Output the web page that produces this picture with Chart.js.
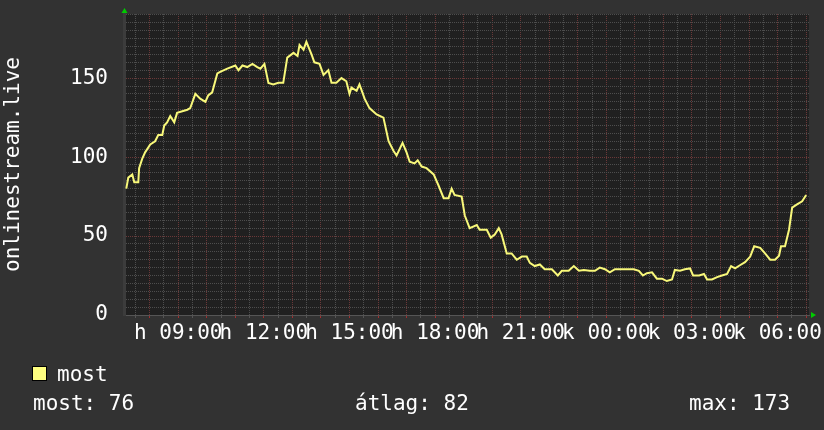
<!DOCTYPE html>
<html>
<head>
<meta charset="utf-8">
<script src="https://cdn.jsdelivr.net/npm/chart.js@4/dist/chart.umd.min.js"></script>
<style>
  html, body { margin: 0; padding: 0; background: #323232; }
</style>
</head>
<body>
<canvas id="chart" width="824" height="430"></canvas>
<script>
// time of each sample, hours since midnight of the first day
const times = [7.18,7.25,7.39,7.46,7.60,7.63,7.74,7.84,8.02,8.19,
  8.30,8.44,8.51,8.61,8.72,8.86,8.96,9.32,9.42,9.60,
  9.77,9.95,10.05,10.19,10.37,10.47,10.72,11.00,11.11,11.25,
  11.42,11.60,11.77,11.88,12.02,12.16,12.33,12.51,12.68,12.82,
  13.04,13.18,13.25,13.39,13.49,13.67,13.77,13.95,14.09,14.26,
  14.37,14.54,14.72,14.89,15.00,15.07,15.25,15.35,15.53,15.70,
  15.95,16.19,16.37,16.54,16.65,16.86,17.00,17.11,17.28,17.39,
  17.53,17.70,17.95,18.12,18.30,18.47,18.58,18.68,18.93,19.04,
  19.21,19.46,19.56,19.81,19.95,20.09,20.23,20.33,20.51,20.68,
  20.86,21.04,21.21,21.32,21.49,21.67,21.84,22.09,22.30,22.44,
  22.68,22.86,23.04,23.21,23.42,23.60,23.77,23.95,24.12,24.30,
  24.47,24.72,24.96,25.14,25.28,25.42,25.60,25.77,25.95,26.12,
  26.30,26.40,26.58,26.75,26.93,27.04,27.25,27.42,27.53,27.70,
  27.88,28.05,28.23,28.37,28.51,28.68,28.86,29.04,29.18,29.39,
  29.56,29.74,29.91,30.05,30.12,30.26,30.40,30.51,30.68,30.86,
  31.00];

// listeners ("most")
const values = [80,87,89,84,84,93,99,103,108,110,
  114,114,120,122,126,122,128,130,131,140,
  137,135,139,141,153,154,156,158,155,158,
  157,159,157,156,159,147,146,147,147,163,
  166,164,171,168,173,165,160,159,152,155,
  147,147,150,148,140,144,142,146,137,131,
  127,125,110,104,101,109,103,97,96,98,
  94,93,89,82,74,74,80,76,75,63,
  55,57,54,54,49,51,55,51,39,39,
  35,37,37,33,31,32,29,29,25,28,
  28,31,28,28.5,28,28,30,29,27,29,
  29,29,29,28,25,26.5,27,23,23,21.5,
  22.5,28.5,28,29,29.5,25,25,26,22.5,22.5,
  24,25,26,31,29.5,31.5,33.5,37,43.5,42.5,
  39,35,35,37.5,43.5,43.5,54,68,70,72,
  76];

const xTickHours = [9, 12, 15, 18, 21, 24, 27, 30];
const xTickLabels = ['h 09:00', 'h 12:00', 'h 15:00', 'h 18:00', 'h 21:00', 'k 00:00', 'k 03:00', 'k 06:00'];
const yTickValues = [0, 50, 100, 150];
const seriesName = 'most';
const statLabels = ['most: 76', 'átlag: 82', 'max: 173'];

const MONO = "'DejaVu Sans Mono', monospace";
const LINE = '#f8f87a';
const MINOR = '#4d4d4d';
const MAJOR = '#6a3838';

const rrdDecor = {
  id: 'rrdDecor',
  beforeDraw(chart) {
    const { ctx, chartArea: a } = chart;
    ctx.save();
    ctx.fillStyle = '#323232';
    ctx.fillRect(0, 0, chart.width, chart.height);
    ctx.fillStyle = '#202020';
    ctx.fillRect(a.left, a.top, a.right - a.left, a.bottom - a.top);
    ctx.restore();
  },
  afterDraw(chart) {
    const { ctx, chartArea: a } = chart;
    ctx.save();
    // axis arrows
    ctx.fillStyle = '#00cc00';
    ctx.beginPath();
    ctx.moveTo(a.left - 2.5, 13);
    ctx.lineTo(a.left + 3.5, 13);
    ctx.lineTo(a.left + 0.5, 8);
    ctx.closePath();
    ctx.fill();
    ctx.beginPath();
    ctx.moveTo(a.right + 2, a.bottom - 3);
    ctx.lineTo(a.right + 2, a.bottom + 3);
    ctx.lineTo(a.right + 7, a.bottom);
    ctx.closePath();
    ctx.fill();
    // legend
    ctx.fillStyle = '#ffff80';
    ctx.fillRect(32.5, 366.5, 14, 14);
    ctx.strokeStyle = '#000';
    ctx.lineWidth = 1;
    ctx.strokeRect(32.5, 366.5, 14, 14);
    ctx.fillStyle = '#ffffff';
    ctx.font = '21px ' + MONO;
    ctx.textBaseline = 'alphabetic';
    ctx.textAlign = 'left';
    ctx.fillText(seriesName, 57, 381);
    ctx.fillText(statLabels[0], 33, 410);
    ctx.fillText(statLabels[1], 355, 410);
    ctx.fillText(statLabels[2], 689, 410);
    ctx.restore();
  }
};

new Chart(document.getElementById('chart'), {
  type: 'line',
  data: {
    datasets: [{
      label: seriesName,
      data: times.map((t, i) => ({ x: t, y: values[i] })),
      borderColor: LINE,
      borderWidth: 2,
      pointRadius: 0,
      tension: 0,
      fill: false
    }]
  },
  options: {
    responsive: false,
    animation: false,
    layout: { padding: { top: 14, right: 15, left: 0, bottom: 0 } },
    plugins: { legend: { display: false }, tooltip: { enabled: false } },
    scales: {
      x: {
        type: 'linear',
        min: 7.1,
        max: 31.1,
        afterFit(s) { s.height = 115; s.paddingLeft = 0; s.paddingRight = 0; },
        afterBuildTicks(s) {
          s.ticks = [];
          for (let v = 7.5; v <= 31; v += 0.5) s.ticks.push({ value: v });
        },
        ticks: {
          autoSkip: false,
          maxRotation: 0,
          padding: 3,
          color: '#ffffff',
          font: { family: MONO, size: 21 },
          callback(v) {
            const i = xTickHours.indexOf(v);
            return i >= 0 ? xTickLabels[i] : '';
          }
        },
        grid: {
          color: c => (c.tick && c.tick.value % 1 === 0 ? MAJOR : MINOR),
          tickColor: c => (c.tick && c.tick.value % 1 === 0 ? '#a03030' : '#555555'),
          tickLength: 3,
          lineWidth: 1
        },
        border: { display: true, color: '#555555', width: 1, dash: [1, 1] }
      },
      y: {
        type: 'linear',
        min: 0,
        max: 190.6,
        afterFit(s) { s.width = 124; s.paddingTop = 0; s.paddingBottom = 0; },
        afterBuildTicks(s) {
          s.ticks = [];
          for (let v = 0; v <= 190; v += 5) s.ticks.push({ value: v });
        },
        ticks: {
          autoSkip: false,
          padding: 16,
          color: '#ffffff',
          font: { family: MONO, size: 21 },
          callback(v) { return yTickValues.includes(v) ? String(v) : ''; }
        },
        grid: {
          color: c => (c.tick && c.tick.value % 50 === 0 && c.tick.value > 0 ? MAJOR : MINOR),
          drawTicks: false,
          lineWidth: 1
        },
        border: { display: true, color: '#3c3c3c', width: 3, dash: [1, 1] },
        title: {
          display: true,
          text: 'onlinestream.live',
          color: '#ffffff',
          font: { family: MONO, size: 21 },
          padding: { top: 1, bottom: 0 }
        }
      }
    }
  },
  plugins: [rrdDecor]
});
</script>
</body>
</html>
